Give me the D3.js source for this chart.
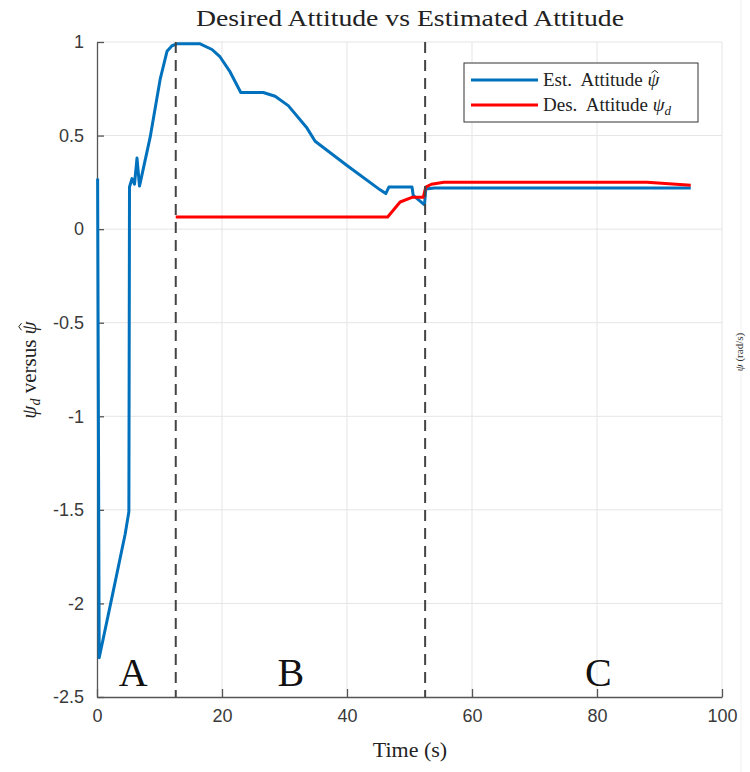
<!DOCTYPE html>
<html>
<head>
<meta charset="utf-8">
<script src="https://cdn.jsdelivr.net/npm/d3@7"></script>
<style>
  body { margin: 0; background: #fff; }
  svg { display: block; }
</style>
</head>
<body>
<script>
const w = 750;
const h = 772;

// estimated attitude (blue)
const estTime = [0.1, 0.35, 2.5, 4.5, 5.1, 5.2, 5.6, 6.0, 6.4, 6.8, 8.5, 10.1, 11.2, 12.0, 12.8, 16.5, 18.4, 19.7, 21.3, 23.0, 26.6, 28.5, 30.6, 33.6, 34.9, 40.0, 45.3, 46.2, 46.7, 50.4, 50.6, 52.4, 52.6, 54.0, 70.0, 95.0];
const estValue = [0.27, -2.29, -1.95, -1.63, -1.51, 0.225, 0.27, 0.24, 0.38, 0.23, 0.49, 0.80, 0.95, 0.98, 0.99, 0.99, 0.96, 0.92, 0.84, 0.73, 0.73, 0.71, 0.66, 0.54, 0.47, 0.34, 0.21, 0.19, 0.225, 0.225, 0.18, 0.13, 0.215, 0.22, 0.22, 0.22];

// desired attitude (red)
const desTime = [12.6, 46.5, 48.5, 50.4, 52.2, 52.6, 53.5, 55.5, 70.0, 88.0, 95.0];
const desValue = [0.065, 0.065, 0.145, 0.17, 0.17, 0.225, 0.24, 0.25, 0.25, 0.25, 0.235];

// phase boundaries and labels
const phaseLines = [12.6, 52.5];
const phaseNames = ["A", "B", "C"];
const phaseNameTime = [5.8, 31, 80.2];

const xTicks = [0, 20, 40, 60, 80, 100];
const yTicks = [-2.5, -2, -1.5, -1, -0.5, 0, 0.5, 1];

const svg = d3.select("body").append("svg").attr("width", w).attr("height", h);

const x = d3.scaleLinear().domain([0, 100]).range([97, 722]);
const y = d3.scaleLinear().domain([-2.5, 1]).range([697, 42]);

const sans = "'Liberation Sans', Arial, sans-serif";
const serif = "'Liberation Serif', 'Times New Roman', serif";

// grid
svg.append("g")
  .selectAll("line")
  .data(xTicks.slice(1))
  .enter()
  .append("line")
  .attr("x1", (d) => x(d)).attr("x2", (d) => x(d))
  .attr("y1", y(1)).attr("y2", y(-2.5))
  .attr("stroke", "#e5e5e5").attr("stroke-width", 1);

svg.append("g")
  .selectAll("line")
  .data(yTicks.slice(1))
  .enter()
  .append("line")
  .attr("x1", x(0)).attr("x2", x(100))
  .attr("y1", (d) => y(d)).attr("y2", (d) => y(d))
  .attr("stroke", "#e5e5e5").attr("stroke-width", 1);

// neighbouring panel edge at the right
svg.append("line")
  .attr("x1", 741).attr("x2", 741).attr("y1", 0).attr("y2", h)
  .attr("stroke", "#f0f0f0").attr("stroke-width", 1);

// axes
const xAxis = d3.axisBottom(x).tickValues(xTicks).tickSizeInner(-8).tickSizeOuter(0).tickPadding(12);
const yAxis = d3.axisLeft(y).tickValues(yTicks).tickSizeInner(-7).tickSizeOuter(0).tickPadding(13)
  .tickFormat((d) => String(d));

const gx = svg.append("g").attr("transform", "translate(0," + y(-2.5) + ")").call(xAxis);
const gy = svg.append("g").attr("transform", "translate(" + x(0) + ",0)").call(yAxis);

[gx, gy].forEach((g) => {
  g.select(".domain").attr("stroke", "#555").attr("stroke-width", 1.3);
  g.selectAll(".tick line").attr("stroke", "#555").attr("stroke-width", 1.3);
  g.selectAll(".tick text").attr("font-family", sans).attr("font-size", 18).attr("fill", "#3a3a3a");
});
gx.selectAll(".tick text").attr("dy", "0.71em");

// lines
const line = d3.line().x((d) => x(d[0])).y((d) => y(d[1]));

svg.append("path")
  .datum(estTime.map((t, i) => [t, estValue[i]]))
  .attr("d", line)
  .attr("fill", "none")
  .attr("stroke", "#0072BD")
  .attr("stroke-width", 3)
  .attr("stroke-linejoin", "round");

svg.append("path")
  .datum(desTime.map((t, i) => [t, desValue[i]]))
  .attr("d", line)
  .attr("fill", "none")
  .attr("stroke", "#FF0000")
  .attr("stroke-width", 3)
  .attr("stroke-linejoin", "round");

// phase boundaries
svg.selectAll("line.phase")
  .data(phaseLines)
  .enter()
  .append("line")
  .attr("class", "phase")
  .attr("x1", (d) => x(d)).attr("x2", (d) => x(d))
  .attr("y1", y(1)).attr("y2", y(-2.5))
  .attr("stroke", "#444")
  .attr("stroke-width", 2)
  .attr("stroke-dasharray", "11,7");

svg.selectAll("text.phase")
  .data(phaseNames)
  .enter()
  .append("text")
  .attr("class", "phase")
  .attr("x", (d, i) => x(phaseNameTime[i]))
  .attr("y", y(-2.44))
  .attr("text-anchor", "middle")
  .attr("font-family", serif)
  .attr("font-size", 40)
  .attr("fill", "#111")
  .text((d) => d);

// little hat drawn over the last glyph of a text (psi hat)
function hatOver(parent, textSel, size) {
  const b = textSel.node().getBBox();
  const cx = b.x + b.width - size * 0.3;
  const top = -size * 0.82 + (+textSel.attr("y") || 0);
  parent.append("path")
    .attr("d", "M" + (cx - size * 0.17) + "," + (top + size * 0.13) +
      "L" + cx + "," + top +
      "L" + (cx + size * 0.17) + "," + (top + size * 0.13))
    .attr("fill", "none")
    .attr("stroke", "#222")
    .attr("stroke-width", 1);
}

// legend
const lg = svg.append("g").attr("transform", "translate(464,63)");
lg.append("rect")
  .attr("width", 234).attr("height", 59)
  .attr("fill", "#fff").attr("stroke", "#333").attr("stroke-width", 1);

const legendItems = [
  { color: "#0072BD", label: "Est.  Attitude " },
  { color: "#FF0000", label: "Des.  Attitude " }
];
legendItems.forEach((it, i) => {
  const yy = 17 + i * 25;
  lg.append("line")
    .attr("x1", 7).attr("x2", 74).attr("y1", yy).attr("y2", yy)
    .attr("stroke", it.color).attr("stroke-width", 3);
  const t = lg.append("text")
    .attr("x", 79).attr("y", yy + 6)
    .attr("font-family", serif).attr("font-size", 19).attr("fill", "#222")
    .attr("xml:space", "preserve");
  t.append("tspan").text(it.label);
  t.append("tspan").attr("font-style", "italic").text("ψ");
  if (i === 0) {
    hatOver(lg, t, 19);
  } else {
    t.append("tspan").attr("font-style", "italic").attr("font-size", 13).attr("dy", 4).text("d");
  }
});

// title
svg.append("text")
  .attr("x", 410).attr("y", 26)
  .attr("text-anchor", "middle")
  .attr("font-family", serif).attr("font-size", 23).attr("fill", "#222")
  .attr("textLength", 428).attr("lengthAdjust", "spacingAndGlyphs")
  .text("Desired Attitude vs Estimated Attitude");

// x label
svg.append("text")
  .attr("x", 410).attr("y", 757)
  .attr("text-anchor", "middle")
  .attr("font-family", serif).attr("font-size", 22).attr("fill", "#222")
  .text("Time (s)");

// y label
const ylg = svg.append("g").attr("transform", "translate(36,370) rotate(-90)");
const yl = ylg.append("text")
  .attr("text-anchor", "middle")
  .attr("font-family", serif).attr("font-size", 21).attr("fill", "#222")
  .attr("xml:space", "preserve");
yl.append("tspan").attr("font-style", "italic").text("ψ");
yl.append("tspan").attr("font-style", "italic").attr("font-size", 14).attr("dy", 4).text("d");
yl.append("tspan").attr("dy", -4).text(" versus ");
yl.append("tspan").attr("font-style", "italic").text("ψ");
hatOver(ylg, yl, 21);

// label of the neighbouring panel, squeezed against the right edge
const rlg = svg.append("g").attr("transform", "translate(743,352) rotate(-90)");
const rl = rlg.append("text")
  .attr("text-anchor", "middle")
  .attr("font-family", serif).attr("font-size", 11).attr("fill", "#333");
rl.append("tspan").attr("font-style", "italic").text("ψ");
rl.append("tspan").text(" (rad/s)");
</script>
</body>
</html>
